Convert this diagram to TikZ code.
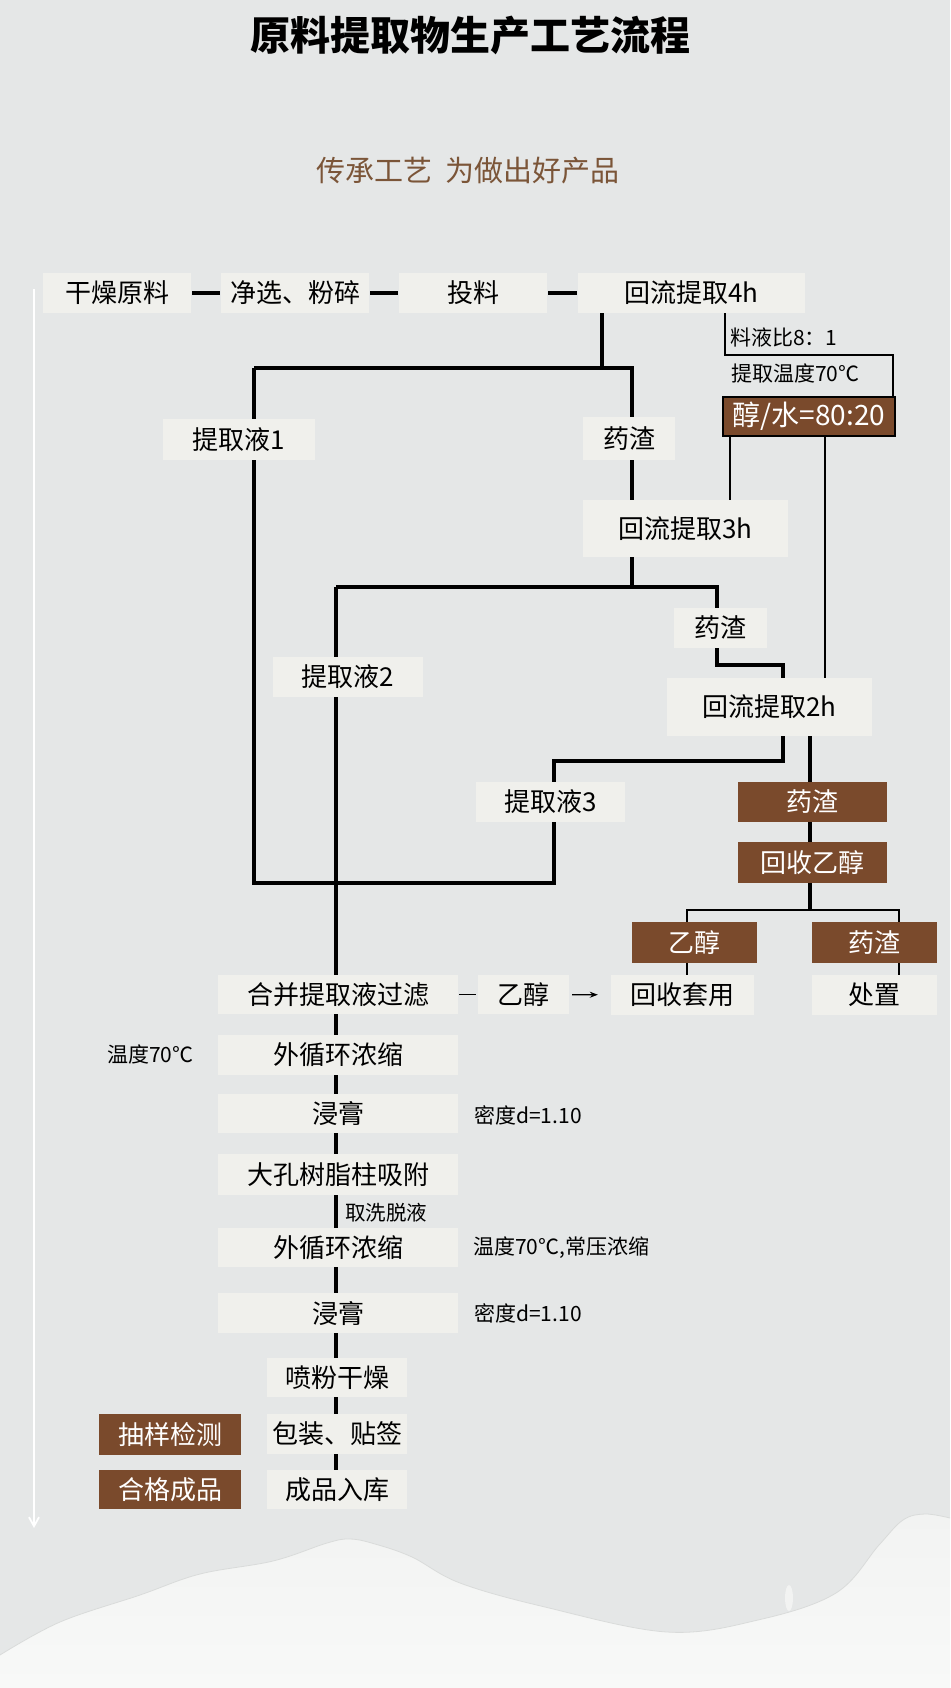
\documentclass[tikz,border=0pt]{standalone}
\usepackage{fontspec}
\setmainfont{Noto Sans CJK SC}
\usetikzlibrary{arrows.meta}
\pgfdeclarelayer{back}
\pgfdeclarelayer{lines}
\pgfsetlayers{back,lines,main}
\definecolor{bgc}{HTML}{E5E7E7}
\definecolor{boxc}{HTML}{F0F0EC}
\definecolor{brownc}{HTML}{7A4A2C}
\definecolor{subc}{HTML}{7B5538}
\definecolor{milkc}{HTML}{F2F3F2}
\definecolor{milkb}{HTML}{F8F9F8}
\definecolor{milkedge}{HTML}{D9DBDA}
\newcommand\mkbox[7]{\node[#2, minimum width={(#4-#3)*1pt}, minimum height={(#6-#5)*1pt}] (#1) at ({(#3+#4)/2},{(#5+#6)/2}) {#7};}
\tikzset{
  gbox/.style={fill=boxc, inner sep=0pt, text=black, font=\fontsize{26}{30}\selectfont},
  bbox/.style={fill=brownc, inner sep=0pt, text=white, font=\fontsize{26}{30}\selectfont},
  small/.style={inner sep=0pt, anchor=west, text=black, font=\fontsize{21}{24}\selectfont},
  thk/.style={line width=3.6pt, black},
  thn/.style={line width=1.9pt, black},
}
\begin{document}
\begin{tikzpicture}[x=1pt,y=-1pt]
\useasboundingbox (0,0) rectangle (950,1688);
% titles
\node[font=\fontsize{40}{44}\selectfont\bfseries] (title) at (470,35) {原料提取物生产工艺流程};
\node[text=subc, font=\fontsize{29}{33}\selectfont] (sub) at (468,171) {传承工艺\hspace{0.45em}为做出好产品};
% top row
\mkbox{A1}{gbox}{43}{191}{273}{313}{干燥原料}
\mkbox{A2}{gbox}{221}{369}{273}{313}{净选、粉碎}
\mkbox{A3}{gbox}{399}{547}{273}{313}{投料}
\mkbox{A4}{gbox}{578}{805}{273}{313}{回流提取4h}
% extraction branches
\mkbox{L1}{gbox}{163}{315}{419}{460}{提取液1}
\mkbox{R1}{gbox}{583}{675}{417}{460}{药渣}
\mkbox{B3}{gbox}{583}{788}{500}{557}{回流提取3h}
\mkbox{L2}{gbox}{273}{423}{657}{697}{提取液2}
\mkbox{R2}{gbox}{674}{767}{608}{648}{药渣}
\mkbox{B2}{gbox}{667}{872}{678}{736}{回流提取2h}
\mkbox{L3}{gbox}{476}{625}{782}{822}{提取液3}
\mkbox{E}{bbox, draw=black, line width=1.6pt, font=\fontsize{28}{32}\selectfont}{723}{895}{397}{436}{醇/水=80:20}
% residue branch
\mkbox{Z1}{bbox}{738}{887}{782}{822}{药渣}
\mkbox{Z2}{bbox}{738}{887}{842}{883}{回收乙醇}
\mkbox{Z3}{bbox}{632}{757}{922}{963}{乙醇}
\mkbox{Z4}{bbox}{812}{937}{922}{963}{药渣}
\mkbox{H1}{gbox}{611}{754}{975}{1015}{回收套用}
\mkbox{H2}{gbox}{812}{937}{975}{1015}{处置}
% main column
\mkbox{M1}{gbox}{218}{458}{975}{1014}{合并提取液过滤}
\mkbox{M1b}{gbox}{478}{569}{975}{1014}{乙醇}
\mkbox{M2}{gbox}{218}{458}{1035}{1075}{外循环浓缩}
\mkbox{M3}{gbox}{218}{458}{1094}{1133}{浸膏}
\mkbox{M4}{gbox}{218}{458}{1154}{1195}{大孔树脂柱吸附}
\mkbox{M5}{gbox}{218}{458}{1228}{1267}{外循环浓缩}
\mkbox{M6}{gbox}{218}{458}{1293}{1333}{浸膏}
\mkbox{M7}{gbox}{267}{407}{1358}{1397}{喷粉干燥}
\mkbox{M8}{gbox}{267}{407}{1414}{1454}{包装、贴签}
\mkbox{M9}{gbox}{267}{407}{1470}{1509}{成品入库}
\mkbox{Q1}{bbox}{99}{241}{1414}{1455}{抽样检测}
\mkbox{Q2}{bbox}{99}{241}{1470}{1509}{合格成品}
% notes
\node[small] (n1) at (730,337) {料液比8：1};
\node[small] (n2) at (731,373) {提取温度70℃};
\node[small] (n3) at (107,1054) {温度70℃};
\node[small] (n4) at (474,1115) {密度d=1.10};
\node[small, font=\fontsize{20.5}{24}\selectfont] (n5) at (345,1213) {取洗脱液};
\node[small] (n6) at (473,1248) {温度70℃,常压浓缩};
\node[small] (n7) at (474,1313) {密度d=1.10};
% coordinates
\coordinate (j1) at (602,368);
\coordinate (j1L) at (254,368);
\coordinate (j1R) at (632,368);
\coordinate (j1b) at (254,883);
\coordinate (j1c) at (554,883);
\coordinate (j1d) at (554,761);
\coordinate (j1e) at (783,761);
\coordinate (j2) at (632,587);
\coordinate (j2L) at (336,587);
\coordinate (j2R) at (717,587);
\coordinate (j2a) at (717,665);
\coordinate (j2b) at (783,665);
\coordinate (t1) at (725,355);
\coordinate (t2) at (893,355);
\coordinate (t3) at (730,470);
\coordinate (t4) at (825,560);
\coordinate (z0) at (810,911);
\coordinate (z1) at (687,910);
\coordinate (z2) at (899,910);
\coordinate (w1) at (34,289);
\coordinate (w2) at (34,1528);
\begin{pgfonlayer}{back}
\fill[bgc] (0,0) rectangle (950,1688);
\shade[top color=milkc, bottom color=milkb] plot[smooth, tension=0.6] coordinates {(0,1655) (60,1622) (140,1595) (200,1574) (273,1561) (327,1543) (350,1539) (375,1544) (412,1557) (460,1583) (545,1607) (667,1632) (758,1620) (836,1593) (879,1545) (903,1520) (925,1514) (950,1518)} -- (950,1688) -- (0,1688) -- cycle;
\draw[milkedge, line width=0.8pt] plot[smooth, tension=0.6] coordinates {(0,1655) (60,1622) (140,1595) (200,1574) (273,1561) (327,1543) (350,1539) (375,1544) (412,1557) (460,1583) (545,1607) (667,1632) (758,1620) (836,1593) (879,1545) (903,1520) (925,1514) (950,1518)};
\fill[milkc] (789,1598) ellipse (4pt and 13pt);
\end{pgfonlayer}
\begin{pgfonlayer}{lines}
\draw[white, line width=1.8pt, -{Straight Barb[length=9pt,width=10pt]}] (w1) -- (w2);
% top row connectors
\draw[thk, shorten <=1pt, shorten >=1pt] (A1) -- (A2);
\draw[thk, shorten <=1pt, shorten >=1pt] (A2) -- (A3);
\draw[thk, shorten <=1pt, shorten >=1pt] (A3) -- (A4);
% first extraction
\draw[thk] (A4.south -| j1) -- (j1);
\draw[thk] (j1L) -- (j1R) -- (B3.north -| j1R);
\draw[thk] (j1L) -- (j1b) -- (j1c) -- (j1d) -- (j1e) -- (B2.south -| j1e);
% second extraction
\draw[thk] (B3.south -| j2) -- (j2);
\draw[thk] (j2L) -- (j2R) -- (j2a) -- (j2b) -- (B2.north -| j2b);
\draw[thk] (j2L) -- (M9.north -| j2L);
% solvent
\draw[thn] (A4.south -| t1) -- (t1) -- (t2) -- (E.north -| t2);
\draw[thn] (E.south -| t3) -- (B3.north -| t3);
\draw[thn] (E.south -| t4) -- (B2.north -| t4);
% residue branch
\draw[thk] (B2.south -| z0) -- (z0);
\draw[thn] (Z3.north -| z1) -- (z1) -- (z2) -- (Z4.north -| z2);
\draw[thn] (Z3.south -| z1) -- (H1.north -| z1);
\draw[thn] (Z4.south -| z2) -- (H2.north -| z2);
% ethanol recovery
\draw[line width=1.3pt, shorten <=1pt, shorten >=2pt] (M1) -- (M1b);
\draw[line width=1.2pt, shorten <=3pt, shorten >=13pt, -{Stealth[length=8pt,width=6pt]}] (M1b) -- (H1);
\end{pgfonlayer}
\end{tikzpicture}
\end{document}
